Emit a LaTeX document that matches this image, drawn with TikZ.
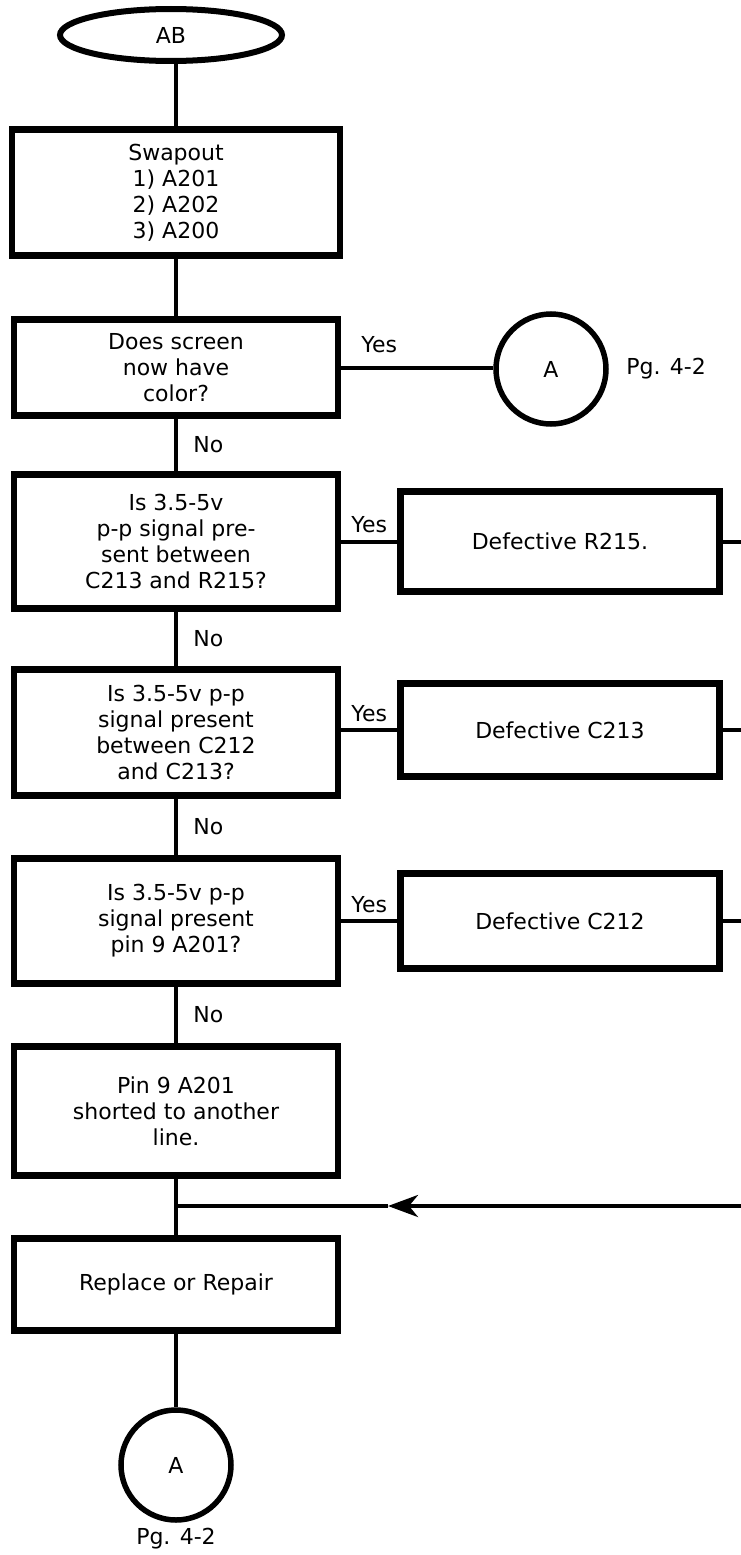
\documentclass[tikz,border=0pt]{standalone}
\usepackage{fontspec}
\setmainfont{DejaVu Sans}
\usetikzlibrary{arrows.meta,positioning,shapes.geometric}

\begin{document}
\begin{tikzpicture}[x=1pt,y=-1pt,font=\fontsize{22}{26}\selectfont,
  box/.style={draw, rectangle, line width=6.5pt, align=center, inner sep=0pt, minimum width=324pt},
  conn/.style={draw, circle, line width=5.5pt, minimum size=110pt, inner sep=0pt},
  flow/.style={line width=4pt}]
  \useasboundingbox (0,0) rectangle (741,1555);
  % main column
  \node[draw, ellipse, line width=6pt, minimum width=222pt, minimum height=52pt, inner sep=0pt] (ab) at (171,35) {AB};
  \node[box, minimum width=328pt, minimum height=126pt] (swap) at (176,192.5)
    {\fontsize{22}{22}\selectfont Swapout\\1) A201\\2) A202\\3) A200};
  \node[box, minimum height=96pt] (q1) at (176,367.5) {\fontsize{22}{23}\selectfont Does screen\\now have\\color?};
  \node[box, minimum height=134pt] (q2) at (176,541.5) {Is 3.5-5v\\p-p signal pre-\\sent between\\C213 and R215?};
  \node[box, minimum height=126pt] (q3) at (176,732.5) {Is 3.5-5v p-p\\signal present\\between C212\\and C213?};
  \node[box, minimum height=125pt] (q4) at (176,921) {Is 3.5-5v p-p\\signal present\\pin 9 A201?};
  \node[box, minimum height=129pt] (pin) at (176,1111) {Pin 9 A201\\shorted to another\\line.};
  \node[box, minimum height=92pt] (fix) at (176,1284.5) {Replace or Repair};
  \node[conn] (endA) at (176,1465) {A};
  \node[below=2pt of endA] (pgB) {Pg. 4-2};

  \node[conn] (ahigh) at (551,369) {A};
  \node[right=14pt of ahigh] (pgA) {Pg. 4-2};

  \draw[flow] (ab.south -| swap.north) -- (swap.north);
  \draw[flow] (swap) -- (q1);
  \draw[flow] (q1.east) -- node[above=9pt, pos=0.25]{Yes} (q1.east -| ahigh.west);
  \draw[flow] (q1) -- node[right=12pt]{No} (q2);
  \draw[flow] (q2) -- node[right=12pt]{No} (q3);
  \draw[flow] (q3) -- node[right=12pt]{No} (q4);
  \draw[flow] (q4) -- node[right=12pt]{No} (pin);
  \draw[flow] (pin) -- (fix);
  \draw[flow] (fix) -- (endA);

  % faults on the right
  \foreach \q/\d/\y/\h/\part in {q2/d1/541.5/100/R215., q3/d2/730/93/C213, q4/d3/921/95/C212}{
    \node[box, minimum width=319pt, minimum height=\h pt] (\d) at (560,\y) {Defective \part};
    \coordinate (\d r) at (741,\y);
    \draw[flow] (\q.east |- \d) -- node[above=3pt]{Yes} (\d.west);
    \draw[flow] (\d.east) -- (\d r);
  }

  % return line
  \coordinate (back) at (741,1206);
  \coordinate (tip) at (388,1206);
  \draw[flow, -{Stealth[length=30pt, width=22pt, inset=9pt]}] (back) -- (tip);
  \draw[flow] (tip) -- (pin.south |- back);
\end{tikzpicture}
\end{document}
